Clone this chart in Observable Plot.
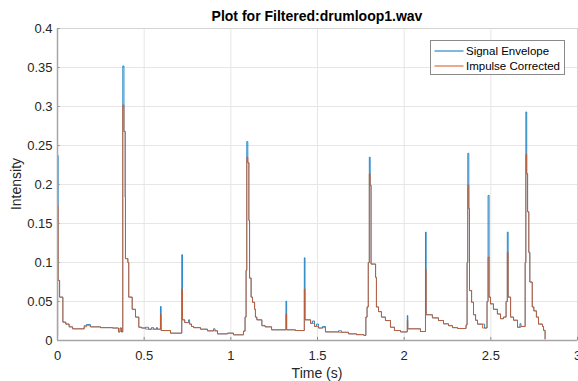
<!DOCTYPE html>
<html>
<head>
<meta charset="utf-8">
<script src="https://cdn.jsdelivr.net/npm/d3@7"></script>
<script src="https://cdn.jsdelivr.net/npm/@observablehq/plot@0.6"></script>
<style>
  html, body { margin: 0; padding: 0; background: #fff; }
  #chart { width: 578px; height: 381px; }
  svg { font-family: "Liberation Sans", Arial, Helvetica, sans-serif; }
</style>
</head>
<body>
<div id="chart"></div>
<script>
const title = "Plot for Filtered:drumloop1.wav";
const xLabel = "Time (s)";
const yLabel = "Intensity";
const seriesNames = ["Signal Envelope", "Impulse Corrected"];
const xTicks = [0, 0.5, 1, 1.5, 2, 2.5, 3];
const yTicks = [0, 0.05, 0.1, 0.15, 0.2, 0.25, 0.3, 0.35, 0.4];

const time = [
  0, 0.0005, 0.004, 0.012, 0.031, 0.048, 0.067, 0.087, 0.154, 0.167, 0.190, 0.248, 0.317, 0.352, 0.361, 0.369,
  0.3765, 0.3835, 0.3905, 0.392, 0.406, 0.411, 0.431, 0.450, 0.469, 0.485, 0.508, 0.525, 0.542, 0.554, 0.571, 0.577,
  0.594, 0.598, 0.652, 0.717, 0.721, 0.734, 0.756, 0.762, 0.773, 0.785, 0.825, 0.865, 0.900, 0.909, 0.923, 0.981,
  1.015, 1.073, 1.082, 1.088, 1.092, 1.098, 1.104, 1.108, 1.117, 1.125, 1.137, 1.142, 1.150, 1.179, 1.198, 1.235,
  1.318, 1.322, 1.373, 1.424, 1.428, 1.460, 1.471, 1.483, 1.494, 1.506, 1.529, 1.546, 1.621, 1.638, 1.679, 1.725,
  1.768, 1.779, 1.786, 1.793, 1.799, 1.804, 1.809, 1.835, 1.840, 1.852, 1.869, 1.892, 1.921, 1.944, 1.979,
  2.018, 2.021, 2.094, 2.123, 2.127, 2.163, 2.198, 2.227, 2.256, 2.279, 2.308, 2.357, 2.363, 2.367, 2.373, 2.377,
  2.389, 2.400, 2.412, 2.423, 2.452, 2.463, 2.478, 2.484, 2.490, 2.498, 2.515, 2.538, 2.556, 2.573, 2.588, 2.595,
  2.600, 2.614, 2.631, 2.654, 2.668, 2.674, 2.698, 2.702, 2.707, 2.712, 2.719, 2.725, 2.739, 2.748, 2.763, 2.775,
  2.798, 2.804, 2.813
];

const envelope = [
  0.005, 0.237, 0.077, 0.0556, 0.0235, 0.021, 0.0175, 0.015, 0.019, 0.0205, 0.0175, 0.0165, 0.016, 0.011, 0.016, 0.011,
  0.352, 0.268, 0.184, 0.105, 0.100, 0.0556, 0.040, 0.030, 0.017, 0.016, 0.017, 0.0145, 0.0165, 0.0145, 0.0165, 0.0145,
  0.0436, 0.0128, 0.0094, 0.110, 0.0265, 0.023, 0.0265, 0.021, 0.018, 0.0165, 0.0145, 0.0124, 0.015, 0.0124, 0.0085, 0.0094,
  0.0073, 0.012, 0.030, 0.090, 0.255, 0.228, 0.154, 0.080, 0.0556, 0.049, 0.040, 0.030, 0.0265, 0.019, 0.0175, 0.0137,
  0.0504, 0.0137, 0.0128, 0.106, 0.0265, 0.022, 0.025, 0.018, 0.021, 0.016, 0.018, 0.011, 0.0125, 0.0105, 0.0085, 0.0075,
  0.0064, 0.030, 0.043, 0.100, 0.235, 0.199, 0.098, 0.081, 0.043, 0.037, 0.030, 0.0256, 0.017, 0.0128, 0.011,
  0.032, 0.015, 0.0115, 0.139, 0.033, 0.029, 0.0256, 0.0214, 0.019, 0.0165, 0.0154, 0.020, 0.100, 0.240, 0.169, 0.064,
  0.049, 0.033, 0.026, 0.021, 0.021, 0.016, 0.050, 0.186, 0.0556, 0.047, 0.040, 0.034, 0.028, 0.030, 0.050, 0.139,
  0.0556, 0.030, 0.026, 0.017, 0.0215, 0.018, 0.100, 0.293, 0.2137, 0.165, 0.113, 0.075, 0.043, 0.038, 0.030, 0.021,
  0.018, 0.013, 0.002
];

const corrected = [
  0.005, 0.173, 0.077, 0.0556, 0.0235, 0.021, 0.0175, 0.015, 0.0175, 0.019, 0.0175, 0.0165, 0.016, 0.011, 0.016, 0.011,
  0.302, 0.268, 0.184, 0.105, 0.100, 0.0556, 0.040, 0.030, 0.017, 0.016, 0.0145, 0.0145, 0.0145, 0.0145, 0.0145, 0.0145,
  0.0333, 0.0128, 0.0094, 0.066, 0.0265, 0.023, 0.023, 0.021, 0.018, 0.0165, 0.0145, 0.0124, 0.0124, 0.0124, 0.0085, 0.0094,
  0.0073, 0.012, 0.030, 0.090, 0.235, 0.228, 0.154, 0.080, 0.0556, 0.049, 0.040, 0.030, 0.0265, 0.019, 0.0175, 0.0137,
  0.034, 0.0137, 0.0128, 0.066, 0.0265, 0.022, 0.022, 0.018, 0.018, 0.016, 0.0165, 0.011, 0.0105, 0.0105, 0.0085, 0.0075,
  0.0064, 0.030, 0.043, 0.100, 0.2137, 0.199, 0.098, 0.081, 0.043, 0.037, 0.030, 0.0256, 0.017, 0.0128, 0.011,
  0.0256, 0.015, 0.0115, 0.0906, 0.033, 0.029, 0.0256, 0.0214, 0.019, 0.0165, 0.0154, 0.020, 0.100, 0.199, 0.169, 0.064,
  0.049, 0.033, 0.026, 0.021, 0.016, 0.016, 0.050, 0.107, 0.0556, 0.047, 0.040, 0.034, 0.028, 0.030, 0.050, 0.113,
  0.0556, 0.030, 0.026, 0.017, 0.017, 0.018, 0.100, 0.2385, 0.2137, 0.165, 0.113, 0.075, 0.043, 0.038, 0.030, 0.021,
  0.018, 0.013, 0.002
];

const colors = ["#0072BD", "#D95319"];

const rows = time.map((t, i) => ({t, env: envelope[i], cor: corrected[i]}));

const W = 578, H = 381, mL = 57, mR = 1, mT = 28, mB = 41;

const chart = Plot.plot({
  width: W,
  height: H,
  marginLeft: mL,
  marginRight: mR,
  marginTop: mT,
  marginBottom: mB,
  style: {fontFamily: "'Liberation Sans', Arial, Helvetica, sans-serif", fontSize: "13px", color: "#262626", background: "#fff"},
  x: {domain: [0, 3], ticks: xTicks, tickFormat: d => String(d), label: null},
  y: {domain: [0, 0.4], ticks: yTicks, tickFormat: d => String(+d.toFixed(2)), label: null},
  marks: [
    Plot.gridX(xTicks, {stroke: "#e6e6e6", strokeOpacity: 1}),
    Plot.gridY(yTicks, {stroke: "#e6e6e6", strokeOpacity: 1}),
    Plot.frame({stroke: "#d4d4d4"}),
    Plot.line(rows, {x: "t", y: "env", stroke: colors[0], strokeWidth: 0.8, curve: "step-after"}),
    Plot.line(rows, {x: "t", y: "cor", stroke: colors[1], strokeWidth: 0.8, curve: "step-after"}),
    Plot.ruleY(yTicks, {x1: 0, x2: 0.015, stroke: "#8c8c8c"}),
    Plot.ruleX(xTicks, {y1: 0, y2: 0.004, stroke: "#8c8c8c"}),
    Plot.ruleX([0], {stroke: "#a6a6a6", strokeWidth: 1.5}),
    Plot.ruleY([0], {stroke: "#a6a6a6", strokeWidth: 1.5}),
    Plot.axisX(xTicks, {tickSize: 0, tickPadding: 10, fontSize: 13, fill: "#262626", tickFormat: d => String(d)}),
    Plot.axisY(yTicks, {tickSize: 0, tickPadding: 5, fontSize: 13, fill: "#262626", tickFormat: d => String(+d.toFixed(2))})
  ]
});

document.getElementById("chart").appendChild(chart);

const svg = d3.select(chart);
// Title
svg.append("text")
  .attr("x", (mL + W - mR) / 2)
  .attr("y", 21)
  .attr("text-anchor", "middle")
  .attr("font-size", 14)
  .attr("font-weight", "bold")
  .attr("fill", "#000")
  .text(title);
// X label
svg.append("text")
  .attr("x", (mL + W - mR) / 2)
  .attr("y", 378)
  .attr("text-anchor", "middle")
  .attr("font-size", 14)
  .attr("fill", "#262626")
  .text(xLabel);
// Y label
svg.append("text")
  .attr("transform", `translate(21, ${(mT + H - mB) / 2}) rotate(-90)`)
  .attr("text-anchor", "middle")
  .attr("font-size", 14)
  .attr("fill", "#262626")
  .text(yLabel);
// Legend
const lg = svg.append("g").attr("transform", "translate(430.5, 40.5)");
lg.append("rect").attr("width", 134).attr("height", 34).attr("fill", "#fff").attr("stroke", "#8a8a8a");
seriesNames.forEach((name, i) => {
  const yy = 10.5 + i * 15;
  lg.append("line").attr("x1", 4).attr("x2", 33).attr("y1", yy).attr("y2", yy).attr("stroke", colors[i]).attr("stroke-width", 1);
  lg.append("text").attr("x", 35.5).attr("y", yy + 4).attr("text-anchor", "start").attr("font-size", 11.5).attr("fill", "#000").text(name);
});
</script>
</body>
</html>
